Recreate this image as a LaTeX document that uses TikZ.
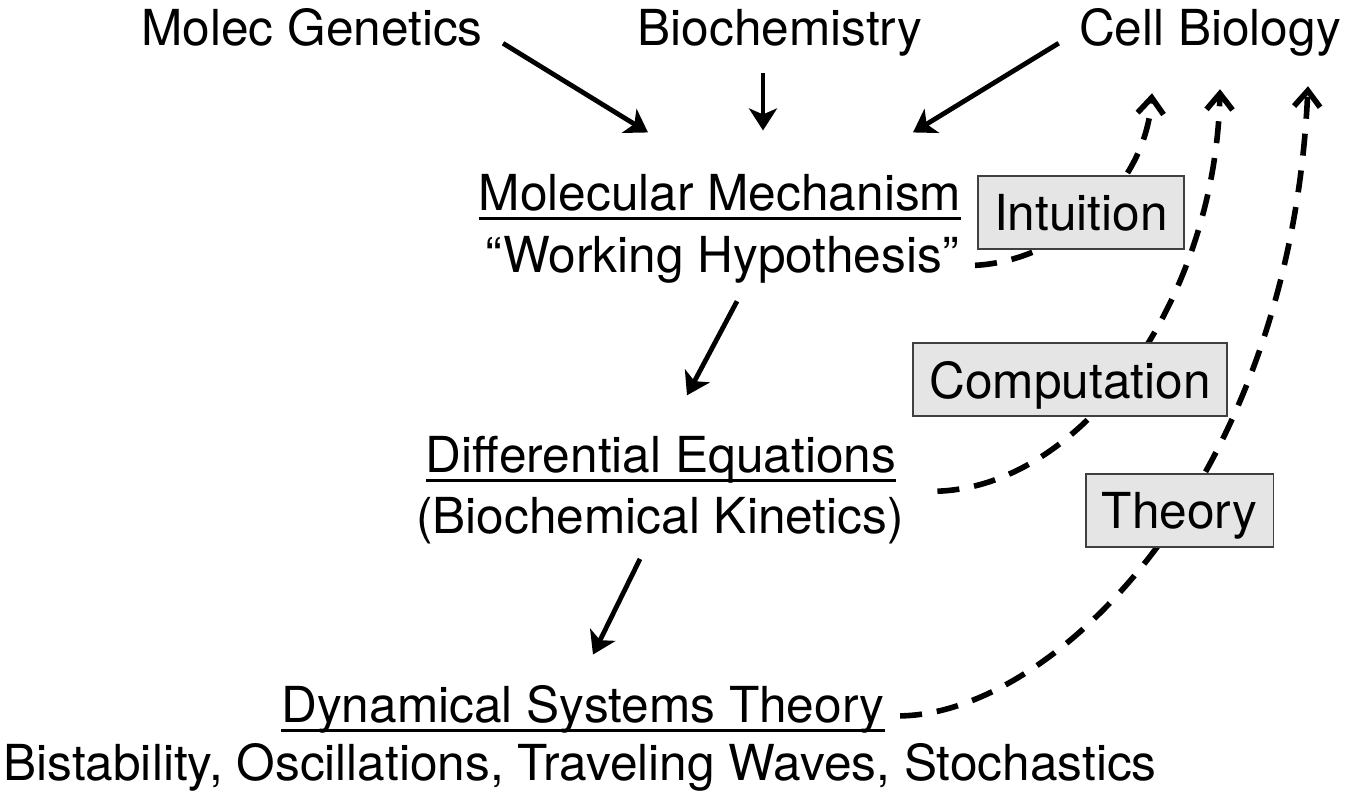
\documentclass[tikz,border=0pt]{standalone}
\usepackage{fontspec}
\setmainfont{TeX Gyre Heros}
\usetikzlibrary{arrows.meta}

\newcommand{\bigfont}{\fontsize{24.8}{30}\selectfont}
\newcommand{\undertext}[1]{\setbox0\hbox{#1}\rlap{\rule[-4.8pt]{\wd0}{1.3pt}}\box0}

\begin{document}
\begin{tikzpicture}[x=0.5pt, y=-0.5pt,
	  txt/.style={font=\bigfont, inner sep=3pt, anchor=base},
	  labelbox/.style={draw=black!75, fill=black!10, line width=0.8pt, font=\bigfont,
	    minimum height=36.5pt, inner xsep=8pt, text depth=0pt},
	  flow/.style={-{Stealth[length=11pt,width=14pt,inset=3pt]}, line width=2.4pt},
	  feedback/.style={-{Straight Barb[length=8pt,width=13pt]}, line width=2.8pt,
	    dash pattern=on 11pt off 7.5pt},
	]
	\useasboundingbox (0,0) rectangle (1359,794);
	
	% Disciplines
	\node[txt] (gen) at (312,45) {Molec Genetics};
	\node[txt] (bio) at (780,45) {Biochemistry};
	\node[txt] (cell) at (1210,45) {Cell Biology};
	
	% Mechanism
	\node[txt] (mech) at (720,210) {\undertext{Molecular Mechanism}};
	\node[txt] (hyp) at (722,272) {“Working Hypothesis”};
	
	% Equations
	\node[txt] (diffeq) at (661,472) {\undertext{Differential Equations}};
	\node[txt] (kin) at (660,533) {(Biochemical Kinetics)};
	
	% Dynamics
	\node[txt] (dyn) at (583,722) {\undertext{Dynamical Systems Theory}};
	\node[txt] (phen) at (580,780) {Bistability, Oscillations, Traveling Waves, Stochastics};
	
	% Inputs (solid arrows)
	\draw[flow] ([xshift=7pt,yshift=4.5pt]gen.south east) -- ([xshift=-36pt,yshift=17.5pt]mech.north);
	\draw[flow] ([xshift=-8.5pt,yshift=-5.5pt]bio.south) -- ([xshift=21.5pt,yshift=18.5pt]mech.north);
	\draw[flow] ([xshift=-7pt,yshift=9.5pt]cell.south west) -- ([xshift=96.5pt,yshift=17.5pt]mech.north);
	\draw[flow] ([xshift=7.5pt,yshift=-6pt]hyp.south) -- ([xshift=13pt,yshift=17pt]diffeq.north);
	\draw[flow] ([xshift=-10pt,yshift=-4.5pt]kin.south) -- ([xshift=5pt,yshift=12pt]dyn.north);
	
	% Feedback (dashed arrows)
	\draw[feedback] ([xshift=5pt,yshift=-3pt]hyp.east) .. controls +(82,-4) and +(-7,98) .. ([xshift=-29pt,yshift=-15.5pt]cell.south);
	\draw[feedback] ([xshift=17.5pt,yshift=-1pt]diffeq.south east) .. controls +(145,-5) and +(-5,212) .. ([xshift=5pt,yshift=-13.5pt]cell.south);
	\draw[feedback] ([xshift=4.5pt,yshift=-3.5pt]dyn.east) .. controls +(155,-2) and +(-18,395) .. ([xshift=49pt,yshift=-12pt]cell.south);
	
	% Labels on the feedback
	\node[labelbox] (intu) at (1081,212.5) {Intuition};
	\node[labelbox] (comp) at (1070,379.5) {Computation\ };
	\node[labelbox] (theo) at (1179.5,510.5) {Theory};
	
\end{tikzpicture}
\end{document}
